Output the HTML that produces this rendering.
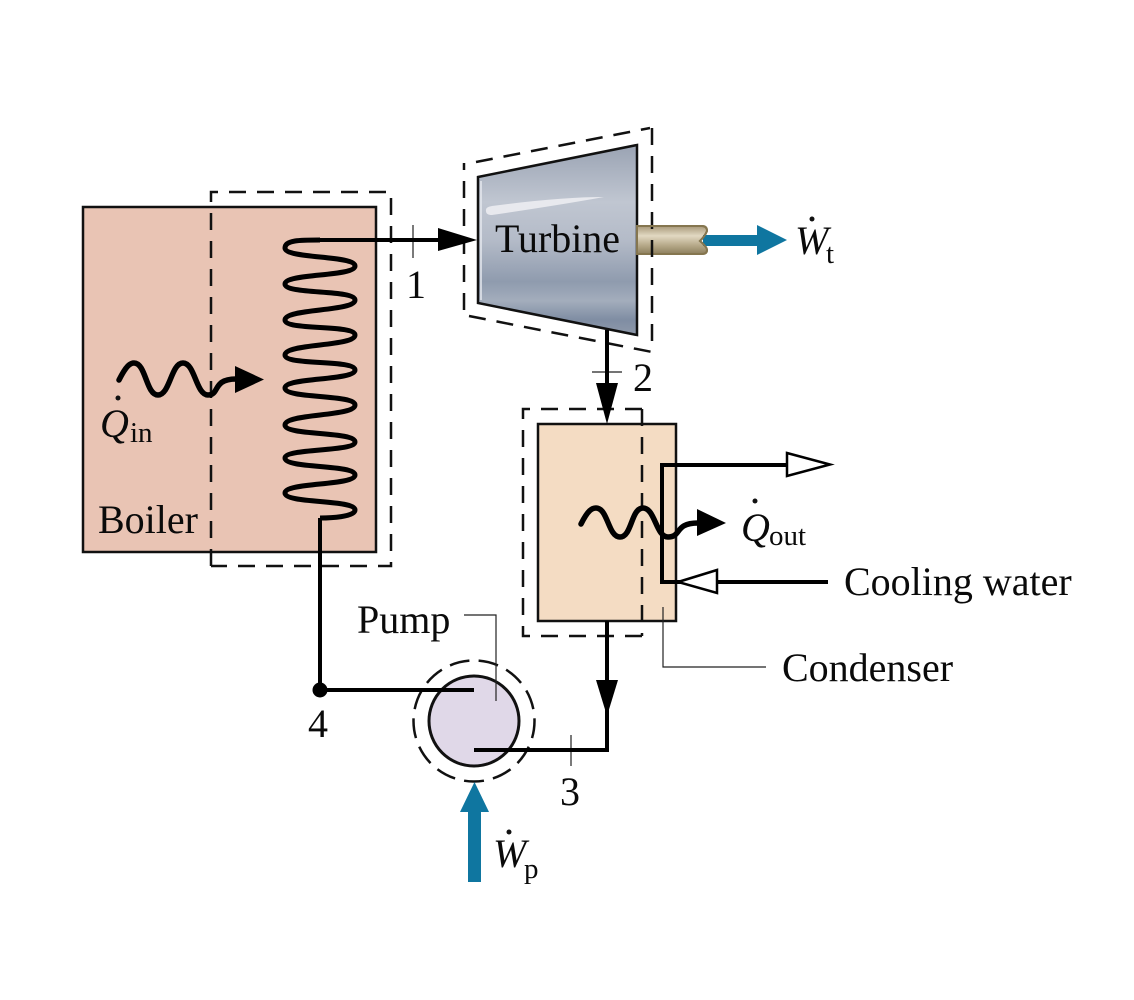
<!DOCTYPE html>
<html><head><meta charset="utf-8"><style>
html,body{margin:0;padding:0;background:#fff}
svg{display:block}
text{font-family:"Liberation Serif",serif;fill:#0a0a0a;font-size:40px}
.i{font-style:italic}
.s{font-size:29px}
</style></head><body>
<svg width="1134" height="1000" viewBox="0 0 1134 1000" xmlns="http://www.w3.org/2000/svg">
<defs>
<linearGradient id="t" x1="0" y1="0" x2="0" y2="1">
<stop offset="0" stop-color="#9aa3b3"/><stop offset=".12" stop-color="#a9b1bf"/><stop offset=".3" stop-color="#c0c6d1"/><stop offset=".5" stop-color="#b4bbc8"/><stop offset=".72" stop-color="#8f9bae"/><stop offset=".82" stop-color="#a3adbc"/><stop offset=".92" stop-color="#7f8da3"/><stop offset="1" stop-color="#8e99aa"/>
</linearGradient>
<linearGradient id="sh" x1="0" y1="0" x2="0" y2="1">
<stop offset="0" stop-color="#a8997a"/><stop offset=".35" stop-color="#e2d9c2"/><stop offset=".7" stop-color="#b5a888"/><stop offset="1" stop-color="#8d7f5e"/>
</linearGradient>
</defs>
<rect x="83" y="207" width="293" height="345" fill="#e9c4b4" stroke="#111" stroke-width="2.5"/>
<rect x="538" y="424" width="138" height="197" fill="#f4dcc3" stroke="#111" stroke-width="2.5"/>
<!-- turbine -->
<polygon points="478,177 637,145 637,335 478,303" fill="url(#t)" stroke="#111" stroke-width="2.5"/>
<path d="M481,181 V300" fill="none" stroke="#e6e9ef" stroke-width="1.5"/>
<path d="M486,211 Q485,207 492,206 Q560,197 604,197 Q560,205 492,215 Q486,215 486,211Z" fill="#e8e9ee"/>
<path d="M637,226 H702 Q707,226 707,231 Q705,236 700,241 Q707,247 707,250 Q707,254 702,254 H637Z" fill="url(#sh)" stroke="#85764f" stroke-width="2"/>
<!-- dashed -->
<g fill="none" stroke="#111" stroke-width="2.5" stroke-dasharray="17 11">
<path d="M211,566 V192 H391 V566 H211"/>
<path d="M464,310 V163"/><path d="M476,162 L650,128"/><path d="M652,128 V352"/><path d="M469,316 L652,352"/>
<path d="M642,409 H523 V636 H642"/><path d="M642,409 V636"/>
<circle cx="474" cy="721" r="60.5" stroke-dasharray="20 9.23" stroke-dashoffset="2.7"/>
</g>
<!-- pump -->
<circle cx="474" cy="721" r="45" fill="#e0d8e8" stroke="#111" stroke-width="3"/>
<!-- thin lines -->
<g fill="none" stroke="#222" stroke-width="1.2">
<path d="M413,225 V258"/><path d="M592,372 H622"/><path d="M571,735 V766"/>
<path d="M464,615 H496 V701"/><path d="M663,607 V667 H766"/>
</g>
<!-- pipes -->
<g fill="none" stroke="#000" stroke-width="4">
<path d="M440,240 H320"/>
<path d="M320,240 C300,240 285,240 285,248 C285,259 355,255 355,266 C355,277 285,273 285,284 C285,295 355,289 355,300 C355,312 285,308 285,320 C285,331 355,324 355,335 C355,347 285,343 285,355 C285,366 355,359 355,370 C355,381 285,377 285,388 C285,399 355,394 355,405 C355,417 285,413 285,425 C285,436 355,431 355,442 C355,452 285,448 285,458 C285,469 355,464 355,475 C355,486 285,482 285,493 C285,504 355,499 355,510 C355,517 330,518 320,518" stroke-width="5"/>
<path d="M320,518 V690 H474"/>
<path d="M607,330 V390"/>
<path d="M607,621 V750 H474"/>
<path d="M787,465 H662 V582 H828"/>
<path d="M119,380 C126,366 130,363 134,363 C146,363 146,395 158,395 C170,395 171,363 183,363 C195,363 196,395 208,395 C220,395 212,379 236,379" stroke-width="5.5" stroke-linecap="round"/>
<path d="M581,524 C588,510 592,508 596,508 C608,508 608,537 620,537 C632,537 631,508 643,508 C655,508 656,537 668,537 C682,537 674,523 698,523" stroke-width="5.5" stroke-linecap="round"/>
</g>
<circle cx="320" cy="690" r="7.5" fill="#000"/>
<!-- arrowheads -->
<polygon points="438,228 477,240 438,251" fill="#000"/>
<polygon points="596,383 618,383 607,424" fill="#000"/>
<polygon points="596,680 618,680 607,716" fill="#000"/>
<polygon points="235,366 264,379.5 235,393" fill="#000"/>
<polygon points="697,509 726,523 697,536" fill="#000"/>
<polygon points="787,453 830,464.5 787,476" fill="#fff" stroke="#000" stroke-width="2.5"/>
<polygon points="717,570 678,582 717,593" fill="#fff" stroke="#000" stroke-width="2.5"/>
<!-- blue arrows -->
<path d="M703,235 H757 V225 L787,240 L757,255 V246 H703Z" fill="#0f76a0"/>
<path d="M468,882 V812 H460 L474.5,782 L489,812 H481 V882Z" fill="#0f76a0"/>
<path d="M637,226 H702 Q707,226 707,231 Q705,236 700,241 Q707,247 707,250 Q707,254 702,254" fill="none" stroke="#85764f" stroke-width="2"/>
<!-- labels -->
<text x="495" y="252" textLength="125" lengthAdjust="spacingAndGlyphs">Turbine</text>
<text x="98" y="533">Boiler</text>
<text x="406" y="298">1</text>
<text x="633" y="391">2</text>
<text x="560" y="805">3</text>
<text x="308" y="737">4</text>
<text x="357" y="633">Pump</text>
<text x="782" y="681">Condenser</text>
<text x="844" y="595">Cooling water</text>
<text class="i" x="100" y="437">Q</text><circle cx="118" cy="398" r="2.5" fill="#111"/><text class="s" x="130" y="442">in</text>
<text class="i" x="741" y="541">Q</text><circle cx="755" cy="501" r="2.5" fill="#111"/><text class="s" x="769" y="545">out</text>
<text class="i" x="795" y="254">W</text><circle cx="812" cy="219" r="2.5" fill="#111"/><text class="s" x="826" y="263">t</text>
<text class="i" x="493" y="867">W</text><circle cx="509" cy="832" r="2.5" fill="#111"/><text class="s" x="524" y="878">p</text>
</svg>
</body></html>
